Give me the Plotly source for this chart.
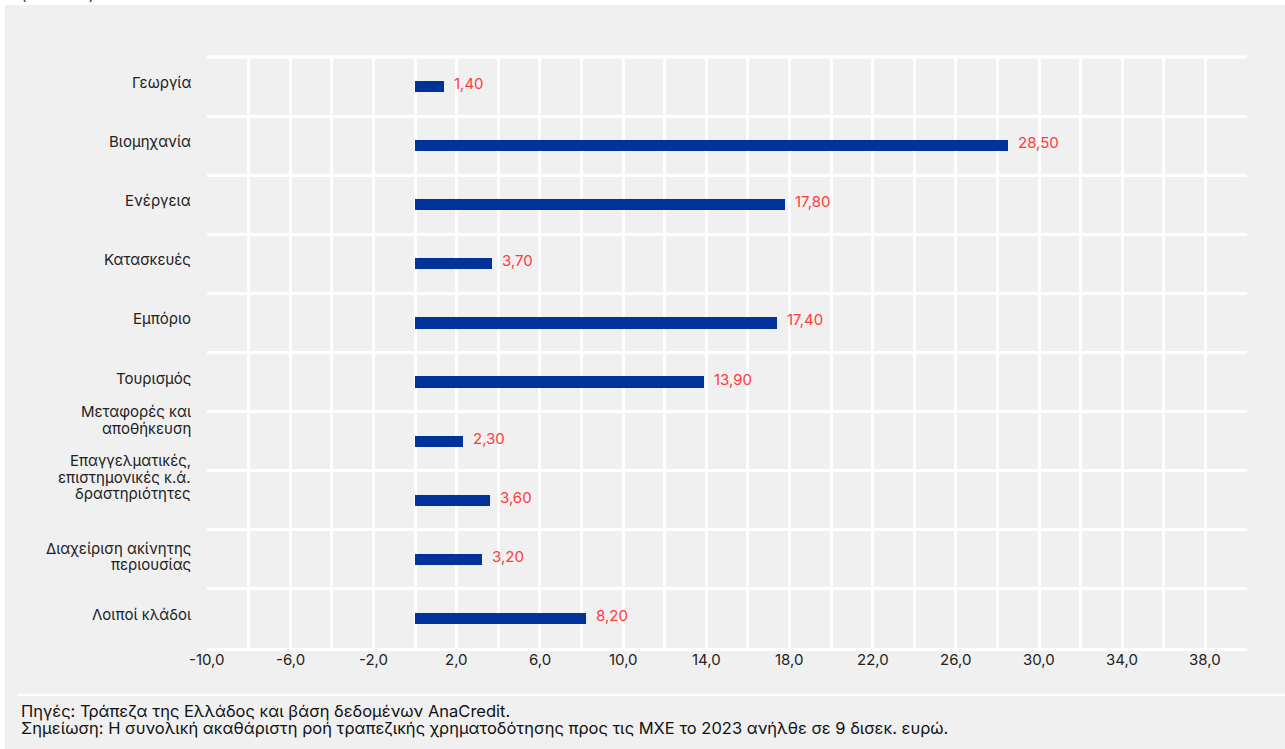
import plotly.graph_objects as go

categories = [
    "Γεωργία",
    "Βιομηχανία",
    "Ενέργεια",
    "Κατασκευές",
    "Εμπόριο",
    "Τουρισμός",
    "Μεταφορές και<br>αποθήκευση",
    "Επαγγελματικές,<br>επιστημονικές κ.ά.<br>δραστηριότητες",
    "Διαχείριση ακίνητης<br>περιουσίας",
    "Λοιποί κλάδοι",
]
values = [1.4, 28.5, 17.8, 3.7, 17.4, 13.9, 2.3, 3.6, 3.2, 8.2]
label_shift = [4, 4, 4, 4, 4, 4, 21, 23, 3, 4]   # label block offset above band centre (px)

tick_values = [-10, -6, -2, 2, 6, 10, 14, 18, 22, 26, 30, 34, 38]
tick_text = ["-10,0", "-6,0", "-2,0", "2,0", "6,0", "10,0", "14,0", "18,0",
             "22,0", "26,0", "30,0", "34,0", "38,0"]

source_lines = [
    "Πηγές: Τράπεζα της Ελλάδος και βάση δεδομένων AnaCredit.",
    "Σημείωση: Η συνολική ακαθάριστη ροή τραπεζικής χρηματοδότησης προς τις ΜΧΕ το 2023 ανήλθε σε 9 δισεκ. ευρώ.",
]
unit_text = "(ποσοστά)"

positions = list(range(len(categories)))
value_text = [f"{v:.2f}".replace(".", ",") for v in values]

FONT = "Inter, Liberation Sans, Arial, sans-serif"
BG = "#f0f0f0"
W, H = 1285, 749
L, R, T, B = 207, 38, 57, 101
PW, PH = W - L - R, H - T - B


def px(xp):
    return (xp - L) / PW


def py(yp):
    return (H - B - yp) / PH


fig = go.Figure()
fig.add_trace(go.Bar(
    x=values, y=positions, orientation="h", width=0.19,
    marker=dict(color="#003399", line=dict(width=0)),
    hoverinfo="skip", showlegend=False,
))

# value labels
for p, v, t in zip(positions, values, value_text):
    fig.add_annotation(
        x=v, y=p, xref="x", yref="y", xanchor="left", yanchor="middle",
        xshift=8, yshift=3, text=t, showarrow=False,
        font=dict(size=15, color="#ff3b3b", family=FONT),
    )

# category labels (one annotation per line for tight line spacing)
LINE = 16.5
for p, c, s in zip(positions, categories, label_shift):
    lines = c.split("<br>")
    n = len(lines)
    for i, ln in enumerate(lines):
        off = s + (n - 1) / 2 * LINE - i * LINE
        fig.add_annotation(
            x=0, xref="paper", xanchor="right", xshift=-14,
            y=p, yref="y", yanchor="middle", yshift=off,
            text=ln, align="right", showarrow=False,
            font=dict(size=15, color="#222222", family=FONT),
        )

# x tick labels
for tv, tt in zip(tick_values, tick_text):
    fig.add_annotation(
        x=tv, xref="x", xanchor="center",
        y=0, yref="paper", yanchor="top", yshift=0,
        text=tt, showarrow=False,
        font=dict(size=15, color="#222222", family=FONT),
    )

# white frame strips (top / left) and separators
fig.add_shape(type="rect", xref="paper", yref="paper",
              x0=px(-20), x1=px(W + 20), y0=py(5), y1=py(-20),
              fillcolor="white", line=dict(width=0), layer="below")
fig.add_shape(type="rect", xref="paper", yref="paper",
              x0=px(-20), x1=px(5), y0=py(H + 20), y1=py(-20),
              fillcolor="white", line=dict(width=0), layer="below")
fig.add_shape(type="line", xref="paper", yref="paper",
              x0=px(18), x1=px(W + 20), y0=py(695), y1=py(695),
              line=dict(color="white", width=2))
fig.add_shape(type="line", xref="paper", yref="paper",
              x0=0, x1=1, y0=1, y1=1,
              line=dict(color="white", width=3))

for i, ln in enumerate(source_lines):
    fig.add_annotation(
        x=px(19), xref="paper", xanchor="left",
        y=py(711 + 17 * i), yref="paper", yanchor="middle",
        text=ln, align="left", showarrow=False,
        font=dict(size=16.5, color="#111111", family=FONT),
    )
fig.add_annotation(
    x=px(19), xref="paper", xanchor="left",
    y=py(6), yref="paper", yanchor="bottom",
    text=unit_text, showarrow=False,
    font=dict(size=15, color="#333333", family=FONT),
)

fig.update_layout(
    width=W, height=H,
    margin=dict(l=L, r=R, t=T, b=B),
    paper_bgcolor=BG, plot_bgcolor=BG,
    font=dict(family=FONT, size=15, color="#222222"),
    xaxis=dict(
        range=[-10, 40], tickvals=tick_values, showticklabels=False,
        showgrid=True, gridcolor="white", gridwidth=3,
        minor=dict(tick0=-10, dtick=2, showgrid=True, gridcolor="white", gridwidth=3),
        zeroline=False, showline=True, linecolor="white", linewidth=3,
        ticks="", fixedrange=True,
    ),
    yaxis=dict(
        range=[9.5, -0.5], showgrid=False, showticklabels=False,
        tickvals=positions,
        minor=dict(tickmode="linear", tick0=0.5, dtick=1, showgrid=True,
                   gridcolor="white", gridwidth=3),
        zeroline=False, ticks="", fixedrange=True,
    ),
    bargap=0,
)

fig.write_html("out.html", config={"displayModeBar": False},
               post_script="document.body.style.margin='0px';")
